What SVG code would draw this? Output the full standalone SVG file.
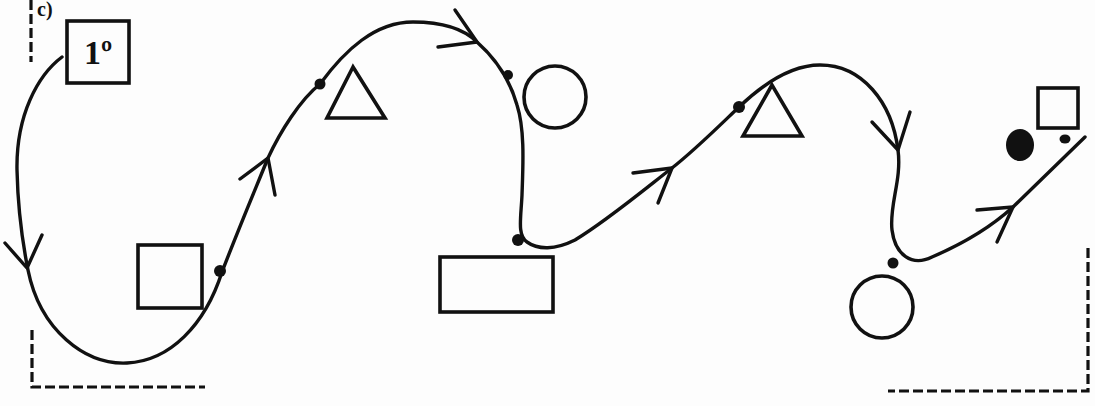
<svg xmlns="http://www.w3.org/2000/svg" width="1095" height="406" viewBox="0 0 1095 406">
<style>
.ln{fill:none;stroke:#111;stroke-width:3.4;stroke-linecap:round;stroke-linejoin:round}
.sh{fill:none;stroke:#111;stroke-width:3.6}
.ds{fill:none;stroke:#111;stroke-width:3.2;stroke-dasharray:10 4}
.dot{fill:#111}
.t{font-family:"Liberation Serif",serif;font-weight:bold;fill:#111}
</style>
<rect width="1095" height="406" fill="#fdfdfd"/>
<text class="t" x="37" y="16" font-size="20">c)</text>
<g id="frame">
<path class="ds" d="M31,0 V62"/>
<path class="ds" d="M32,330 V387 H205"/>
<path class="ds" d="M1088,248 V391 H888"/>
</g>
<g id="start"><rect class="sh" x="67" y="21" width="62" height="62"/><text class="t" x="98" y="64" font-size="34" text-anchor="middle">1º</text></g>
<g id="square1"><rect class="sh" x="138" y="245" width="64" height="63"/></g>
<g id="triangle1"><polygon class="sh" points="353,67 327,118 385,118"/></g>
<g id="circle1"><circle class="sh" cx="555" cy="97" r="31"/></g>
<g id="rect1"><rect class="sh" x="440" y="257" width="113" height="55"/></g>
<g id="triangle2"><polygon class="sh" points="772,85 743,136 802,136"/></g>
<g id="circle2"><circle class="sh" cx="882" cy="307" r="31"/></g>
<g id="square2"><rect class="sh" x="1038" y="88" width="40" height="40"/></g>
<g id="connectors">
<path class="ln" d="M62,57 C38,75 16,115 17,170 C18,215 23,245 28,270 C40,330 85,365 127,363 C170,361 205,325 222,272 C240,225 255,190 268,158 C280,132 300,100 320,84 C345,50 375,22 413,22 C445,22 465,30 477,42 C495,58 510,80 517,105 C525,130 523,165 522,195 C521,218 517,235 527,242 C538,250 555,250 575,240 C605,222 640,193 672,168 C695,150 718,127 739,107 C762,85 790,65 820,65 C862,65 892,102 898,150 C902,180 889,205 892,230 C895,255 912,267 932,257 C960,245 990,228 1013,207 L1085,137"/>
<polyline class="ln" points="5,243 27,268 42,235"/>
<polyline class="ln" points="240,179 268,158 275,195"/>
<polyline class="ln" points="438,47 477,42 455,10"/>
<polyline class="ln" points="633,173 672,168 658,203"/>
<polyline class="ln" points="872,122 898,150 910,112"/>
<polyline class="ln" points="977,210 1013,207 997,242"/>
<circle class="dot" cx="220" cy="271" r="6"/>
<circle class="dot" cx="320" cy="84" r="5.5"/>
<circle class="dot" cx="508" cy="75" r="5"/>
<circle class="dot" cx="518" cy="240" r="6"/>
<circle class="dot" cx="739" cy="107" r="6"/>
<circle class="dot" cx="893" cy="263" r="5.5"/>
<ellipse class="dot" cx="1020" cy="145" rx="14" ry="16"/>
<ellipse class="dot" cx="1065" cy="139" rx="5.5" ry="4.5"/>
</g>
</svg>
